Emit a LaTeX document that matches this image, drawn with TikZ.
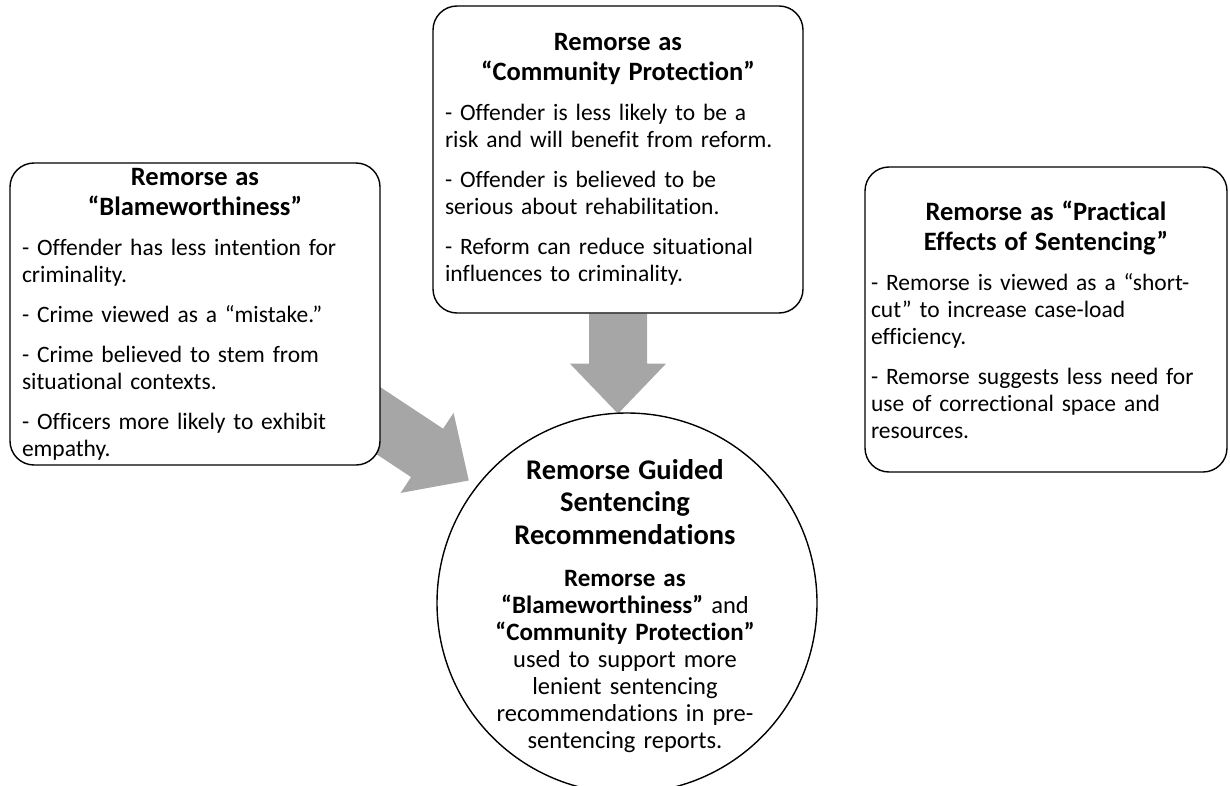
\documentclass[tikz,border=0pt]{standalone}
\usepackage{fontspec}
\setmainfont{Carlito}[Ligatures=NoCommon]
\usetikzlibrary{calc,backgrounds}

\definecolor{arrowgray}{HTML}{A6A6A6}
\newcommand\titlefont{\fontsize{26.5}{30}\selectfont\bfseries}
\newcommand\bodyfont{\fontsize{23.5}{27}\selectfont}

\begin{document}
\begin{tikzpicture}[line cap=round,line join=round,x=1pt,y=-1pt]
\tikzset{
  remorsebox/.style={draw, line width=1.4pt, rounded corners=24pt, fill=white,
    inner xsep=12pt, inner ysep=0pt, align=left, font=\bodyfont},
  blockarrow/.style={fill=arrowgray, draw=none},
}
\def\shaft{29}
\def\head{48}
\def\headlen{50}

\useasboundingbox (0,0) rectangle (1230,786);

% the three views of remorse
\node[remorsebox, minimum width=370, minimum height=302, text width=346pt] (blame) at (195,314) {%
  {\centering\titlefont Remorse as\\ “Blameworthiness”\par}\vspace{13pt}%
  - Offender has less intention for\\ criminality.\\[13pt]
  - Crime viewed as a “mistake.”\\[13pt]
  - Crime believed to stem from\\ situational contexts.\\[13pt]
  - Officers more likely to exhibit\\ empathy.};

\node[remorsebox, minimum width=370, minimum height=307, text width=346pt] (comm) at (618,159.5) {%
  {\centering\titlefont Remorse as\\ “Community Protection”\par}\vspace{13pt}%
  - Offender is less likely to be a\\ risk and will benefit from reform.\\[13pt]
  - Offender is believed to be\\ serious about rehabilitation.\\[13pt]
  - Reform can reduce situational\\ influences to criminality.};

\node[remorsebox, inner xsep=6pt, minimum width=362, minimum height=305, text width=350pt] (pract) at (1046,319.5) {%
  {\centering\titlefont Remorse as “Practical\\ Effects of Sentencing”\par}\vspace{13pt}%
  - Remorse is viewed as a “short-\\ cut” to increase case-load\\ efficiency.\\[13pt]
  - Remorse suggests less need for\\ use of correctional space and\\ resources.};

% outcome
\node[draw, circle, line width=1.4pt, minimum size=380pt, inner sep=0pt, fill=white] (guided) at (627,603) {};
\node[text width=340pt, align=center, font=\fontsize{24.5}{27}\selectfont] (guidedtext)
  at ($(guided.center)+(-2,3)$) {%
  {\fontsize{28.5}{32.5}\selectfont\bfseries Remorse Guided\\ Sentencing\\ Recommendations\par}\vspace{15pt}%
  {\fontsize{25}{27}\selectfont\bfseries Remorse as\\ “Blameworthiness”} and\\
  {\fontsize{25}{27}\selectfont\bfseries “Community Protection”}\\
  used to support more\\ lenient sentencing\\ recommendations in pre-\\ sentencing reports.};

% block arrows
\coordinate (bstart) at ($(blame.south east)+(-37,-68)$);
\begin{scope}[on background layer]
\foreach \s/\a/\l in {bstart/-33.5/100, comm.south/-90/50} {
  \begin{scope}[shift={(\s)}, rotate=\a]
    \fill[blockarrow] (0,-\shaft) -- (\l,-\shaft) -- (\l,-\head) -- (\l+\headlen,0)
      -- (\l,\head) -- (\l,\shaft) -- (0,\shaft) -- cycle;
  \end{scope}
}
\end{scope}

\end{tikzpicture}
\end{document}
